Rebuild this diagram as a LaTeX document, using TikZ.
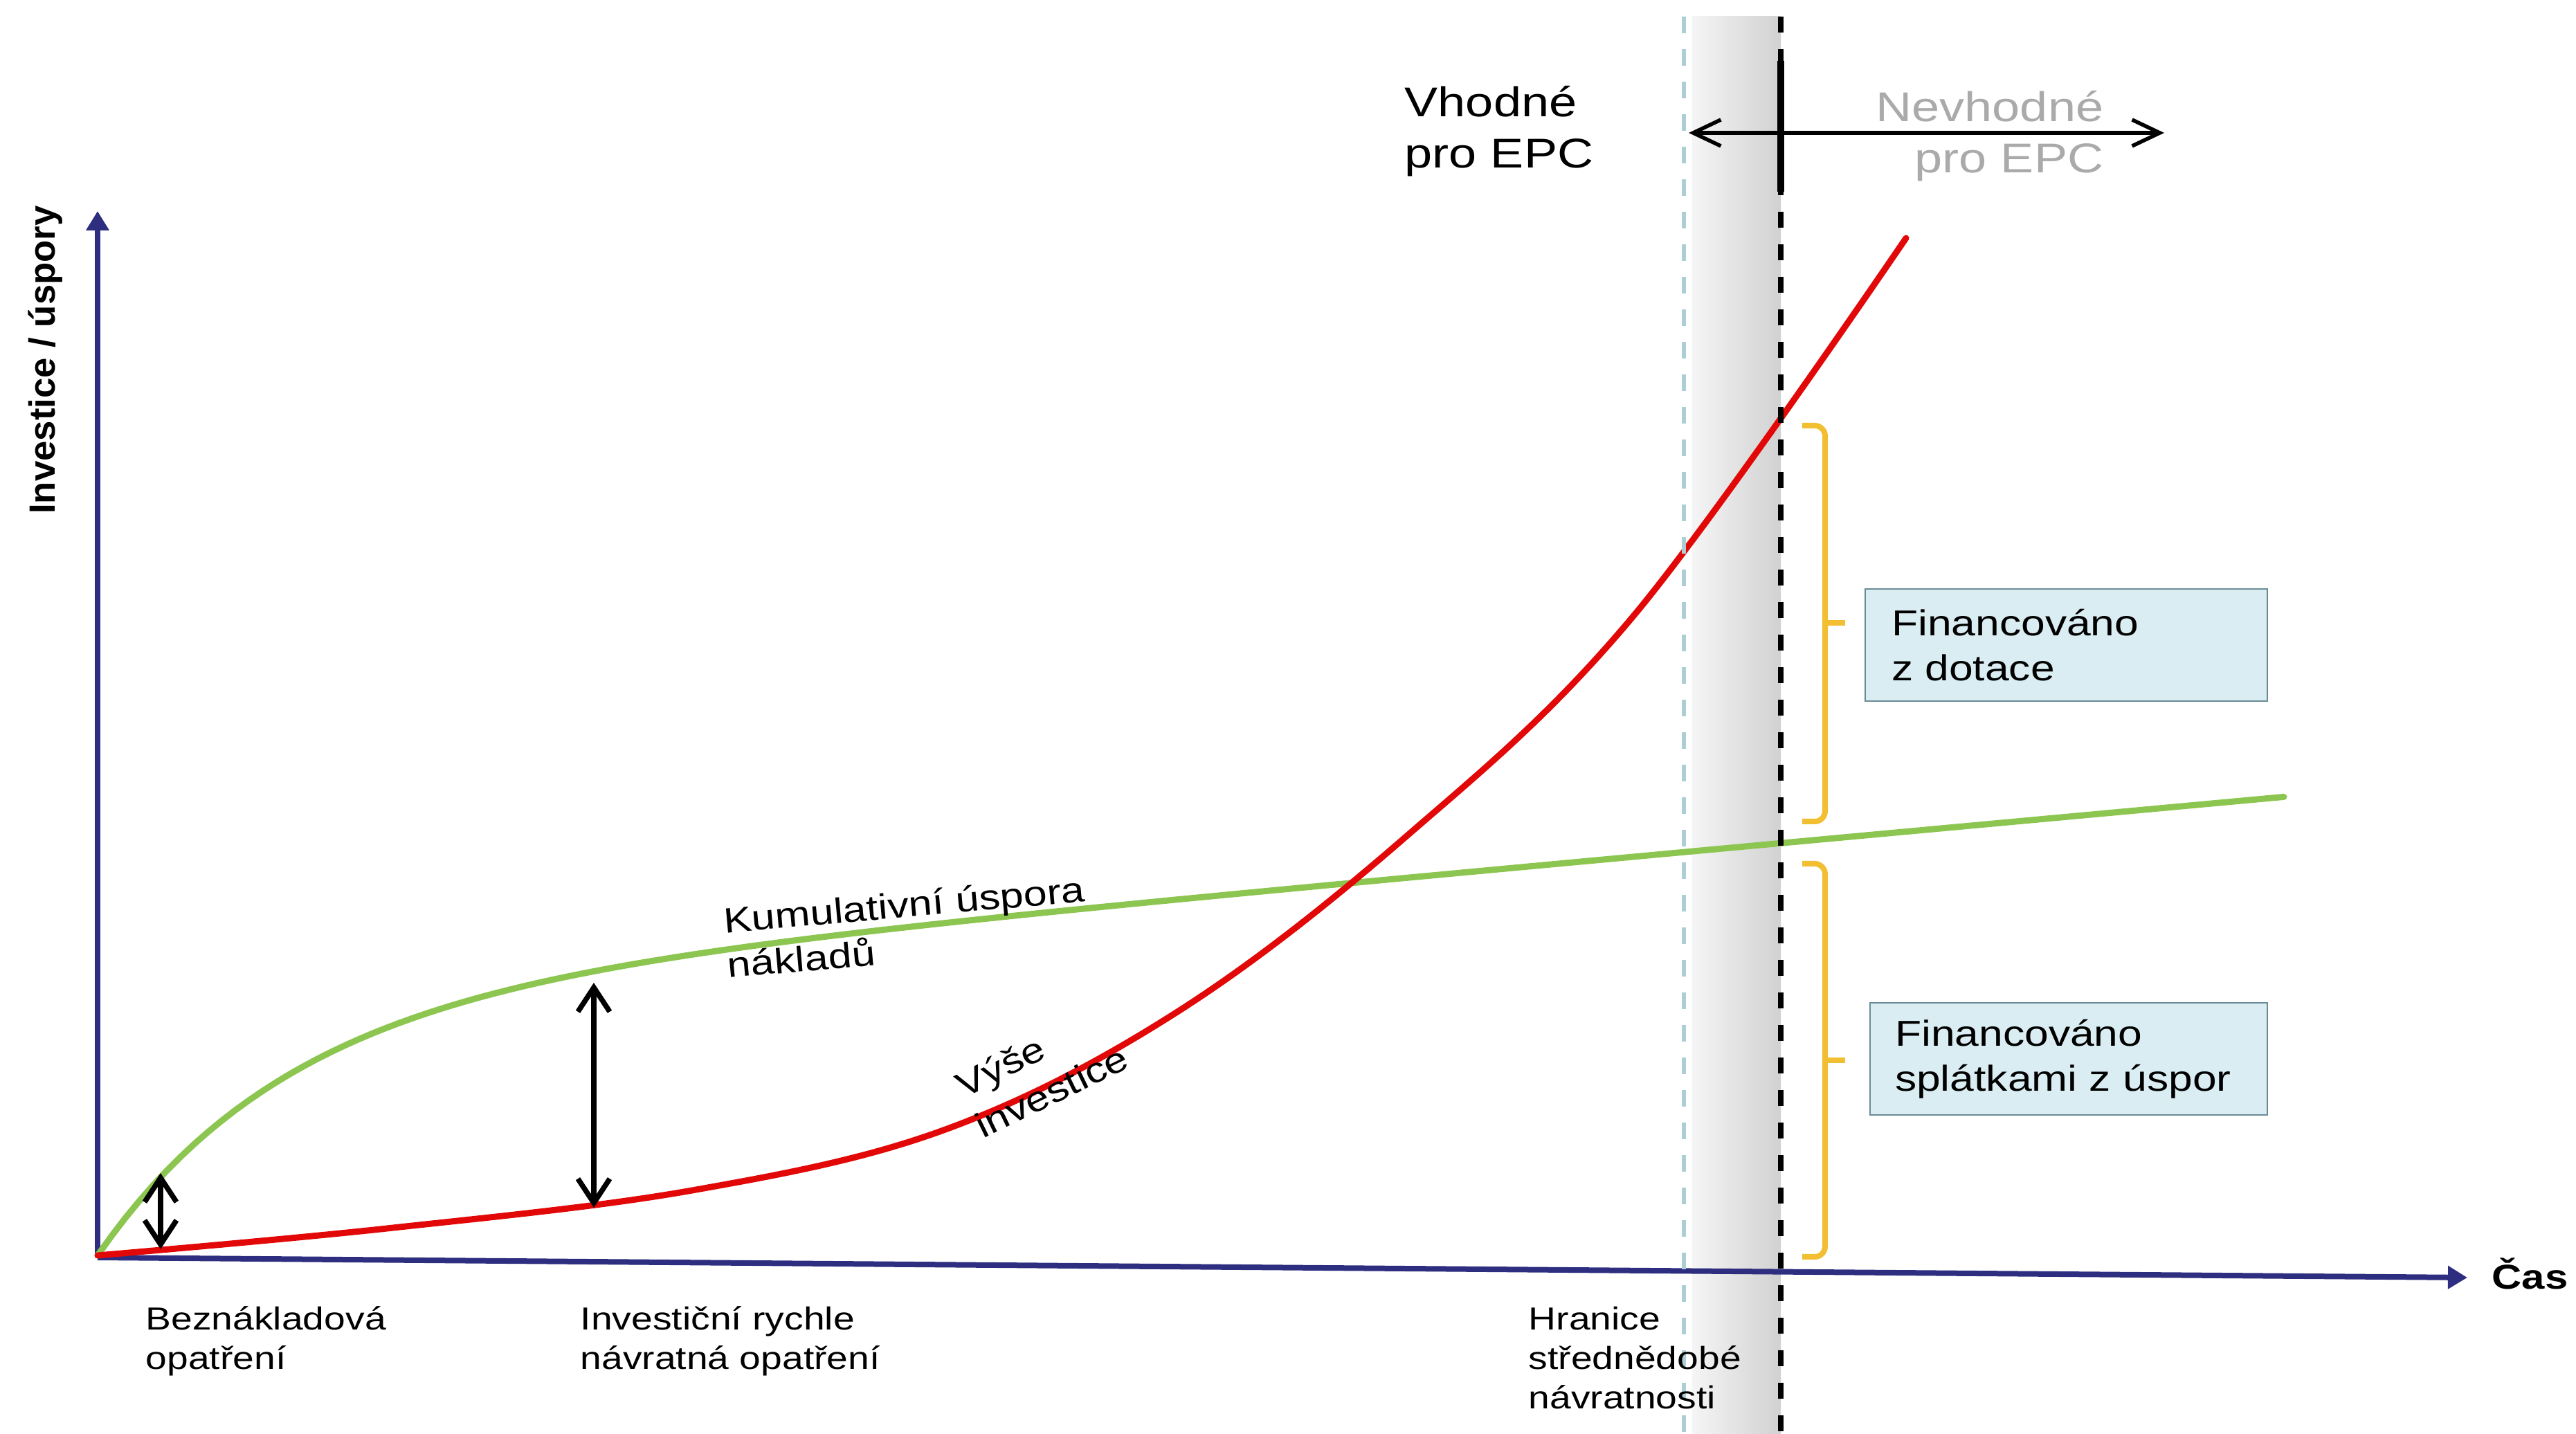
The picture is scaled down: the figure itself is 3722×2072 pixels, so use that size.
\documentclass[tikz,border=0pt]{standalone}
\usepackage{fontspec}
\setmainfont{Liberation Sans}[FakeStretch=1.2]
\newfontfamily\axisfont{Liberation Sans}
\usetikzlibrary{arrows.meta,positioning}
\definecolor{axisblue}{RGB}{46,46,128}
\definecolor{curvered}{RGB}{226,8,8}
\definecolor{curvegreen}{RGB}{140,198,80}
\definecolor{bracegold}{RGB}{242,190,50}
\definecolor{boxfill}{RGB}{218,237,242}
\definecolor{boxline}{RGB}{105,140,150}
\definecolor{paleblue}{RGB}{172,206,212}
\definecolor{fadedtext}{RGB}{170,170,170}
\tikzset{
  axis/.style={axisblue,line width=0.8mm,-{Triangle[length=2.8mm,width=3.2mm]}},
  curve/.style={line width=0.9mm,line cap=round},
  gaparrow/.style={line width=0.75mm,{Straight Barb[length=3.5mm,width=4.6mm]}-{Straight Barb[length=3.5mm,width=4.6mm]}},
  epcarrow/.style={line width=0.55mm,{Straight Barb[length=4mm,width=3.8mm]}-{Straight Barb[length=4mm,width=3.8mm]}},
  brace/.style={bracegold,line width=0.8mm,rounded corners=1.5mm},
  finbox/.style={draw=boxline,fill=boxfill,line width=0.25mm,align=left,minimum height=16.2mm,inner ysep=0pt,font=\fontsize{14.8pt}{18.5pt}\selectfont},
  lbl/.style={inner sep=0,align=left,font=\fontsize{13.1pt}{16.1pt}\selectfont},
  toplbl/.style={inner sep=0,font=\fontsize{17.1pt}{21.3pt}\selectfont},
  curvelbl/.style={inner sep=0,align=left,font=\fontsize{14.5pt}{18.5pt}\selectfont},
}
\begin{document}
\begin{tikzpicture}[x=0.1mm,y=-0.1mm]
\useasboundingbox (0,0) rectangle (3722,2072);

\shade[left color=black!4,right color=black!18] (2445,24) rectangle (2573,2072);

\coordinate (O) at (141,1817);
\coordinate (ytop) at (141,305);
\coordinate (xend) at (3565,1846);
\draw[axis] (O) -- (ytop);
\draw[axis] (O) -- (xend);

\draw[curve,curvegreen] plot[domain=141:3300,samples=160] (\x,{1814-372*(1-exp(-(\x-141)/275))-0.092*(\x-141)});
\draw[curve,curvered] plot[smooth,tension=0.6] coordinates {(141,1814) (559,1775) (1000,1720) (1366,1632) (1698,1464) (2029,1211) (2361,889) (2754,344)};

\draw[paleblue,line width=0.55mm,dash pattern=on 2.4mm off 2.3mm] (2433,24) -- (2433,2072);
\draw[black,line width=0.8mm,dash pattern=on 2.3mm off 2.4mm] (2573,24) -- (2573,2072);
\draw[black,line width=1.05mm] (2573,88) -- (2573,277);

\coordinate (epcL) at (2440,192);
\coordinate (epcR) at (3127,192);
\draw[epcarrow] (epcL) -- (epcR);

\coordinate (gA) at (232,1695);
\coordinate (rA) at (232,1805);
\coordinate (gB) at (858,1420);
\coordinate (rB) at (858,1745);
\draw[gaparrow] (gA) -- (rA);
\draw[gaparrow] (gB) -- (rB);

\draw[brace] (2604,615) -- (2637,615) -- (2637,1187) -- (2604,1187);
\draw[brace] (2637,900) -- (2666,900);
\draw[brace] (2604,1248) -- (2637,1248) -- (2637,1816) -- (2604,1816);
\draw[brace] (2637,1532) -- (2666,1532);

\node[finbox,text width=50.5mm,inner xsep=3.8mm] (dotace) at (2985.5,932) {Financováno\\z dotace};
\node[finbox,text width=50.2mm,inner xsep=3.6mm] (splatky) at (2989,1530) {Financováno\\splátkami z úspor};

\node[toplbl,align=left,anchor=base west] (vhodne) at (2029,243) {Vhodné\\pro EPC};
\node[toplbl,align=right,anchor=base east,text=fadedtext] (nevhodne) at (3040,250) {Nevhodné\\pro EPC};

\node[curvelbl,rotate=5,anchor=base west] (uspora) at (1052,1413) {Kumulativní úspora\\nákladů};
\node[curvelbl,rotate=26,anchor=base west] (vyse) at (1420,1646) {Výše\\investice};

\node[lbl,anchor=base west] (beznak) at (210,1978) {Beznákladová\\opatření};
\node[lbl,anchor=base west] (rychle) at (838,1978) {Investiční rychle\\návratná opatření};
\node[lbl,anchor=base west] (hranice) at (2208,2035) {Hranice\\střednědobé\\návratnosti};

\node[inner sep=0,rotate=90,font=\axisfont\bfseries\fontsize{15pt}{18pt}\selectfont] (ylabel) at (66,520) {Investice / úspory};
\node[inner sep=0,anchor=base west,font=\bfseries\fontsize{14.2pt}{17pt}\selectfont] (cas) at (3600,1862) {Čas};
\end{tikzpicture}
\end{document}
